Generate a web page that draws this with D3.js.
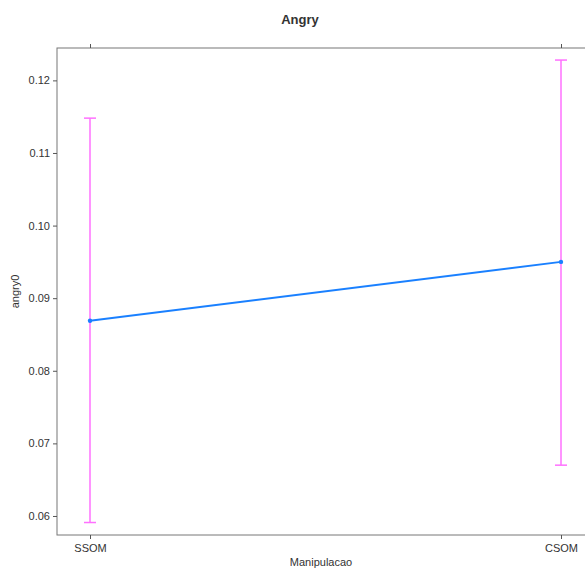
<!DOCTYPE html>
<html>
<head>
<meta charset="utf-8">
<script src="https://cdn.jsdelivr.net/npm/d3@7"></script>
<style>
  body { margin: 0; background: #fff; }
  text { font-family: "Liberation Sans", Arial, sans-serif; fill: #333; }
</style>
</head>
<body>
<script>
(function() {

	// data
	var categories = ["SSOM", "CSOM"];
	var means = [0.0869, 0.0950];
	var lower = [0.0591, 0.0670];
	var upper = [0.1148, 0.1228];
	var yTicks = [0.06, 0.07, 0.08, 0.09, 0.10, 0.11, 0.12];

	var width = 585, height = 570;
	var panel = {left: 57, right: 594, top: 48, bottom: 535};

	var svg = d3.select("body").append("svg")
		.attr("width", width)
		.attr("height", height);

	// scales
	var x = d3.scalePoint()
		.domain(categories)
		.range([90, 561]);

	var y = d3.scaleLinear()
		.domain([0.05738, 0.12446])
		.range([panel.bottom, panel.top]);

	// panel box
	svg.append("rect")
		.attr("x", panel.left)
		.attr("y", panel.top)
		.attr("width", panel.right - panel.left)
		.attr("height", panel.bottom - panel.top)
		.attr("fill", "none")
		.attr("stroke", "#777")
		.attr("stroke-width", 1);

	// left axis
	var yAxis = d3.axisLeft(y)
		.tickValues(yTicks)
		.tickSize(4)
		.tickPadding(3)
		.tickFormat(d3.format(".2f"));

	var yG = svg.append("g")
		.attr("transform", "translate(" + panel.left + ",0)")
		.call(yAxis);
	yG.select(".domain").remove();
	yG.selectAll("line").attr("stroke", "#555");
	yG.selectAll("text").style("font-size", "11px").attr("fill", "#333");

	// bottom axis
	var xAxis = d3.axisBottom(x).tickSize(4).tickPadding(5);
	var xG = svg.append("g")
		.attr("transform", "translate(0," + panel.bottom + ")")
		.call(xAxis);
	xG.select(".domain").remove();
	xG.selectAll("line").attr("stroke", "#555");
	xG.selectAll("text").style("font-size", "11px").attr("fill", "#333");

	// top ticks (no labels)
	var xTop = d3.axisTop(x).tickSize(4).tickFormat("");
	var tG = svg.append("g")
		.attr("transform", "translate(0," + panel.top + ")")
		.call(xTop);
	tG.select(".domain").remove();
	tG.selectAll("line").attr("stroke", "#555");

	// error bars
	var bars = svg.append("g")
		.attr("stroke", "#ff70ff")
		.attr("stroke-width", 1.5);

	categories.forEach(function(c, i) {
		bars.append("line")
			.attr("x1", x(c)).attr("x2", x(c))
			.attr("y1", y(lower[i])).attr("y2", y(upper[i]));
		bars.append("line")
			.attr("x1", x(c) - 6).attr("x2", x(c) + 6)
			.attr("y1", y(lower[i])).attr("y2", y(lower[i]));
		bars.append("line")
			.attr("x1", x(c) - 6).attr("x2", x(c) + 6)
			.attr("y1", y(upper[i])).attr("y2", y(upper[i]));
	});

	// mean line
	var line = d3.line()
		.x(function(d, i) { return x(categories[i]); })
		.y(function(d) { return y(d); });

	svg.append("path")
		.datum(means)
		.attr("d", line)
		.attr("fill", "none")
		.attr("stroke", "#1a80ff")
		.attr("stroke-width", 2);

	svg.selectAll(".pt")
		.data(means)
		.enter().append("circle")
		.attr("class", "pt")
		.attr("cx", function(d, i) { return x(categories[i]); })
		.attr("cy", function(d) { return y(d); })
		.attr("r", 2.2)
		.attr("fill", "#1a80ff");

	// title and axis labels
	svg.append("text")
		.attr("x", 300)
		.attr("y", 24)
		.attr("text-anchor", "middle")
		.style("font-size", "13px")
		.style("font-weight", "bold")
		.attr("fill", "#000")
		.text("Angry");

	svg.append("text")
		.attr("transform", "translate(19," + ((panel.top + panel.bottom) / 2) + ") rotate(-90)")
		.attr("text-anchor", "middle")
		.style("font-size", "11px")
		.text("angry0");

	svg.append("text")
		.attr("x", 321)
		.attr("y", 566)
		.attr("text-anchor", "middle")
		.style("font-size", "11px")
		.text("Manipulacao");

})();
</script>
</body>
</html>
